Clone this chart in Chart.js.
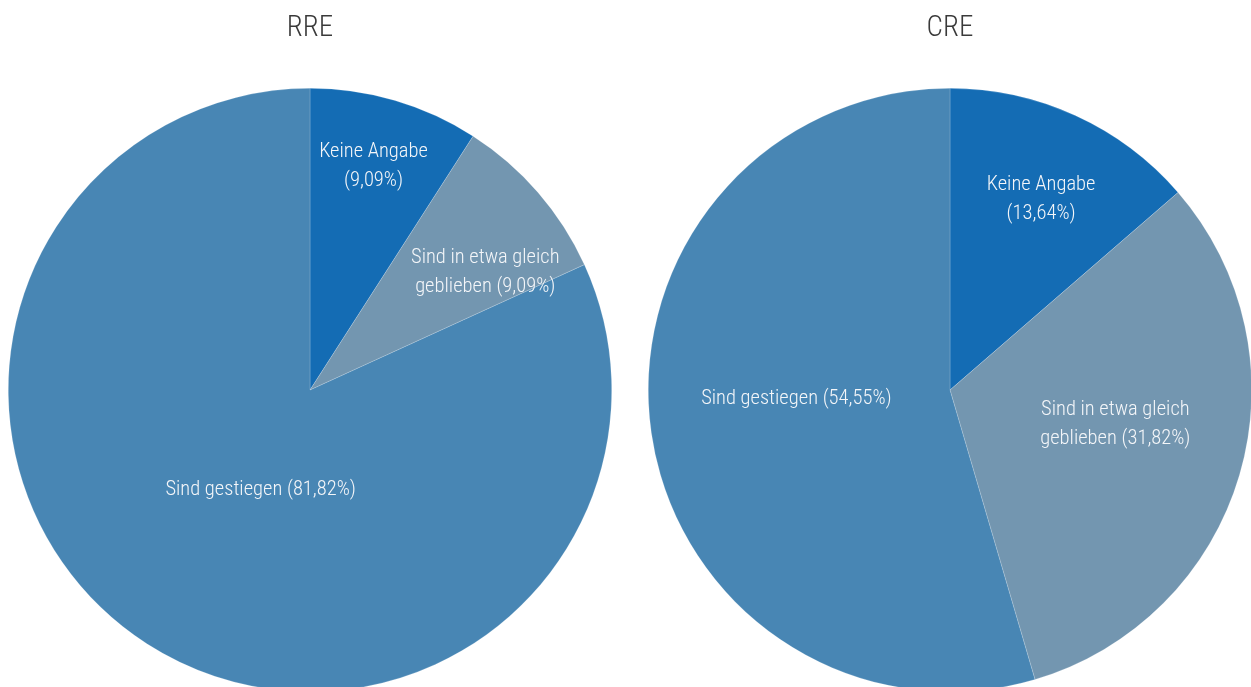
<!DOCTYPE html>
<html lang="de">
<head>
<meta charset="utf-8">
<title>RRE / CRE</title>
<script src="https://cdn.jsdelivr.net/npm/chart.js@4/dist/chart.umd.min.js"></script>
<style>
  html, body { margin: 0; padding: 0; background: #fff; overflow: hidden; }
  .pie { position: absolute; top: 0; }
  #rre-box { left: 0; }
  #cre-box { left: 640px; }
</style>
</head>
<body>
<div class="pie" id="rre-box"><canvas id="rre-chart" width="620" height="692"></canvas></div>
<div class="pie" id="cre-box"><canvas id="cre-chart" width="620" height="692"></canvas></div>
<script>
// categories (clockwise from 12 o'clock)
const categories = ['Keine Angabe', 'Sind in etwa gleich geblieben', 'Sind gestiegen'];
// slice captions, {p} is replaced with the share
const captionLines = [
    ['Keine Angabe', '({p})'],
    ['Sind in etwa gleich', 'geblieben ({p})'],
    ['Sind gestiegen ({p})']
];
// shares in percent
const rreValues = [9.09, 9.09, 81.82];
const creValues = [13.64, 31.82, 54.55];

const sliceColors = ['#146cb4', '#7396b0', '#4886b4'];
const fontFamily = '"Roboto Condensed", "Liberation Sans Narrow", "DejaVu Sans Condensed", sans-serif';

// where each caption sits: fraction of radius, angle nudge in degrees
const rreCaptionPos = [[0.77, -0.5], [0.70, 7], [0.37, -6.5]];
const creCaptionPos = [[0.70, 1], [0.56, -4.5], [0.51, 5]];

function formatShare(v) {
    return v.toFixed(2).replace('.', ',') + '%';
}

// draws the captions inside the slices
const sliceCaptions = {
    id: 'sliceCaptions',
    afterDatasetsDraw(chart, args, opts) {
        const ctx = chart.ctx;
        const meta = chart.getDatasetMeta(0);
        const values = chart.data.datasets[0].data;
        ctx.save();
        ctx.fillStyle = '#f4f6f9';
        ctx.font = '300 20.5px ' + fontFamily;
        ctx.textAlign = 'center';
        ctx.textBaseline = 'middle';
        meta.data.forEach((arc, i) => {
            const p = arc.getProps(['x', 'y', 'startAngle', 'endAngle', 'outerRadius'], true);
            const [frac, nudge] = opts.positions[i];
            const mid = (p.startAngle + p.endAngle) / 2 + nudge * Math.PI / 180;
            const cx = p.x + Math.cos(mid) * p.outerRadius * frac;
            const cy = p.y + Math.sin(mid) * p.outerRadius * frac;
            const lines = captionLines[i].map(l => l.replace('{p}', formatShare(values[i])));
            const lh = 29;
            lines.forEach((line, k) => {
                ctx.fillText(line, cx, cy + (k - (lines.length - 1) / 2) * lh);
            });
        });
        ctx.restore();
    }
};

function makePie(canvasId, title, values, positions) {
    return new Chart(document.getElementById(canvasId), {
        type: 'pie',
        data: {
            labels: categories,
            datasets: [{
                data: values,
                backgroundColor: sliceColors,
                borderColor: 'rgba(255,255,255,0.3)',
                borderWidth: 0.6
            }]
        },
        options: {
            responsive: false,
            animation: false,
            layout: { padding: 0 },
            plugins: {
                legend: { display: false },
                tooltip: { enabled: false },
                title: {
                    display: true,
                    text: title,
                    color: '#3a3a3a',
                    font: { family: fontFamily, size: 29, weight: 300, lineHeight: 1.2 },
                    padding: { top: 11, bottom: 42.2 }
                },
                sliceCaptions: { positions: positions }
            }
        },
        plugins: [sliceCaptions]
    });
}

makePie('rre-chart', 'RRE', rreValues, rreCaptionPos);
makePie('cre-chart', 'CRE', creValues, creCaptionPos);
</script>
</body>
</html>
